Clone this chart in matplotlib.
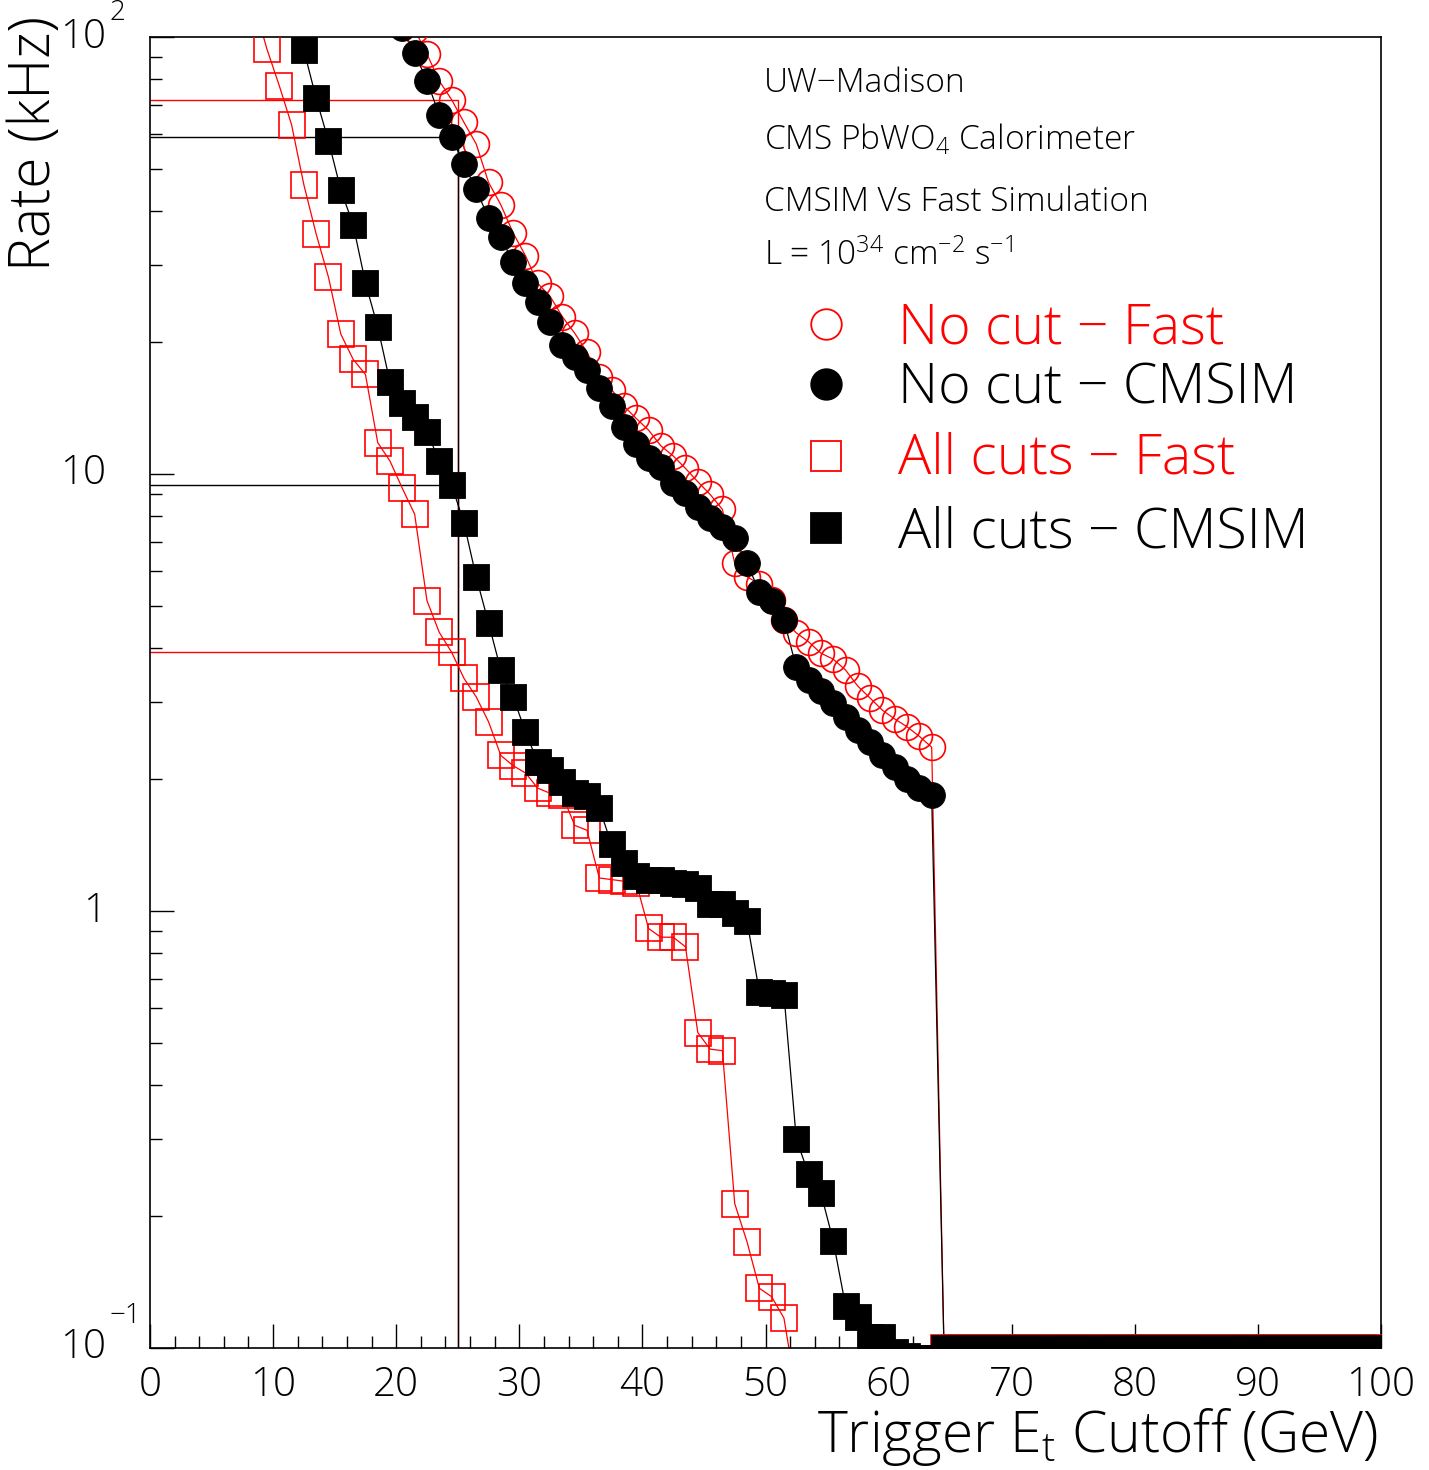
import numpy as np
import matplotlib
matplotlib.use("Agg")
import matplotlib.pyplot as plt
from matplotlib.ticker import MultipleLocator, FixedLocator, NullFormatter
import matplotlib.transforms as mtransforms

plt.rcParams['font.family'] = ['Open Sans', 'DejaVu Sans']
plt.rcParams['font.weight'] = 'light'
plt.rcParams['mathtext.fontset'] = 'custom'
plt.rcParams['mathtext.rm'] = 'Open Sans:light'
plt.rcParams['mathtext.it'] = 'Open Sans:light'

# trigger rate (kHz) per 1 GeV bin of the Et cutoff, bins centred on n + 0.5
ymin = 0.1

nocut_fast_x0 = 20.5
nocut_fast = [125, 104, 91.4, 79.3, 71.9, 63.8, 56.9, 46.5, 41.3, 35.6,
              31.6, 27.3, 25.5, 22.9, 21.0, 19.0, 16.7, 15.6, 14.3, 13.4,
              12.6, 11.6, 11.0, 10.3, 9.6, 8.98, 8.3, 6.25, 5.82, 5.6,
              5.15, 4.63, 4.33, 4.13, 3.89, 3.77, 3.56, 3.27, 3.07, 2.88,
              2.75, 2.64, 2.51, 2.37] + [ymin] * 36

nocut_cmsim_x0 = 19.5
nocut_cmsim = [130, 104.7, 91.8, 79.4, 66.3, 58.9, 51.1, 44.8, 38.5, 34.8,
               30.5, 27.3, 24.8, 22.3, 19.7, 18.5, 17.3, 15.7, 14.3, 12.8,
               11.7, 10.9, 10.4, 9.55, 9.04, 8.42, 7.92, 7.58, 7.13, 6.25,
               5.38, 5.11, 4.63, 3.61, 3.38, 3.18, 2.99, 2.78, 2.60, 2.44,
               2.27, 2.14, 2.01, 1.91, 1.84] + [ymin] * 36

allcuts_fast_x0 = 8.5
allcuts_fast = [118, 93.8, 77.4, 63.0, 45.9, 35.4, 28.2, 20.9, 18.3, 16.9,
                11.8, 10.7, 9.27, 8.09, 5.13, 4.34, 3.91, 3.41, 3.09, 2.71,
                2.27, 2.15, 2.07, 1.91, 1.86, 1.84, 1.57, 1.53, 1.19, 1.18,
                1.17, 1.16, 0.912, 0.871, 0.871, 0.828, 0.527, 0.483, 0.479, 0.214,
                0.175, 0.137, 0.131, 0.117, 0.079, 0.07, 0.07, 0.07, 0.07, 0.07,
                0.07, 0.07, 0.07, 0.07, 0.07, 0.07] + [ymin] * 36

allcuts_cmsim_x0 = 11.5
allcuts_cmsim = [120, 93.3, 72.4, 57.8, 44.7, 37.2, 27.4, 21.7, 16.2, 14.5,
                 13.5, 12.5, 10.7, 9.44, 7.73, 5.81, 4.56, 3.56, 3.09, 2.57,
                 2.19, 2.10, 1.97, 1.86, 1.83, 1.72, 1.42, 1.29, 1.20, 1.18,
                 1.18, 1.16, 1.15, 1.13, 1.04, 1.04, 0.99, 0.948, 0.653, 0.648,
                 0.643, 0.301, 0.250, 0.226, 0.176, 0.125, 0.118, 0.106, 0.106, 0.098,
                 0.096, 0.095, 0.095] + [ymin] * 36

cut_value = 25.0
legend_labels = ["No cut \u2212 Fast", "No cut \u2212 CMSIM",
                 "All cuts \u2212 Fast", "All cuts \u2212 CMSIM"]
header_lines = ["UW\u2212Madison",
                r"CMS PbWO$_{4}$ Calorimeter",
                "CMSIM Vs Fast Simulation",
                r"L = 10$^{34}$ cm$^{-2}$ s$^{-1}$"]
ytick_vals = [0.1, 1, 10, 100]

RED = '#ff0000'
BLACK = '#000000'

series = [
    (nocut_fast_x0, nocut_fast, RED, 'o', 'none', RED, 1.2),
    (nocut_cmsim_x0, nocut_cmsim, BLACK, 'o', BLACK, BLACK, 0.6),
    (allcuts_fast_x0, allcuts_fast, RED, 's', 'none', RED, 1.2),
    (allcuts_cmsim_x0, allcuts_cmsim, BLACK, 's', BLACK, BLACK, 0.6),
]

fig = plt.figure(figsize=(14.29, 14.70), dpi=100)
ax = fig.add_axes([150 / 1429, 1 - 1348 / 1470, 1231 / 1429, 1311 / 1470])
ax.set_yscale('log')
ax.set_xlim(0, 100)
ax.set_ylim(0.1, 100)

ms = 18.6
for x0, vals, col, mk, fc, ec, mw in series:
    x = x0 + np.arange(len(vals))
    ax.plot(x, vals, color=col, lw=0.9, zorder=2)
    ax.plot(x, vals, ls='none', marker=mk, ms=ms, mfc=fc, mec=ec,
            mew=mw, zorder=3)

# rates at the 25 GeV cut (bin just below the cut)
def rate_at(x0, vals):
    return vals[int(round(cut_value - 0.5 - x0))]

r_nf = rate_at(nocut_fast_x0, nocut_fast)
r_nc = rate_at(nocut_cmsim_x0, nocut_cmsim)
r_af = rate_at(allcuts_fast_x0, allcuts_fast)
r_ac = rate_at(allcuts_cmsim_x0, allcuts_cmsim)
ax.plot([0, cut_value, cut_value], [r_nf, r_nf, ymin], color=RED, lw=1.0, zorder=1)
ax.plot([0, cut_value], [r_af, r_af], color=RED, lw=1.0, zorder=1)
ax.plot([0, cut_value, cut_value], [r_nc, r_nc, ymin], color=BLACK, lw=1.0, zorder=1.5)
ax.plot([0, cut_value], [r_ac, r_ac], color=BLACK, lw=1.0, zorder=1.5)

# axes frame and ticks
for sp in ax.spines.values():
    sp.set_linewidth(1.2)
ax.xaxis.set_major_locator(MultipleLocator(10))
ax.xaxis.set_minor_locator(MultipleLocator(2))
ax.tick_params(axis='x', which='major', direction='in', length=17, width=1,
               labelsize=29, pad=12, top=False)
ax.tick_params(axis='x', which='minor', direction='in', length=8.5, width=1, top=False)
ax.yaxis.set_major_locator(FixedLocator(ytick_vals))
ax.yaxis.set_minor_locator(FixedLocator(
    [m * 10.0 ** e for e in (-1, 0, 1) for m in range(2, 10)]))
ax.yaxis.set_major_formatter(NullFormatter())
ax.yaxis.set_minor_formatter(NullFormatter())
ax.tick_params(axis='y', which='major', direction='in', length=17, width=1, right=False)
ax.tick_params(axis='y', which='minor', direction='in', length=8.5, width=1, right=False)

# y tick labels, powers written with a raised exponent
ytr = mtransforms.blended_transform_factory(ax.transAxes, ax.transData)
lx = (106 - 150) / 1231
exp_text = {2: ("2", 0.024), -1: ("\u22121", 0.042)}
for v in ytick_vals:
    e = int(round(np.log10(v)))
    if e in (0, 1):
        ax.text(lx, v, str(int(v)), transform=ytr, ha='right', va='center',
                fontsize=29)
    else:
        ax.text(lx, v, "10", transform=ytr, ha='right', va='center', fontsize=29)
        s, off = exp_text[e]
        ax.text(lx + 0.003, v * 10 ** off, s, transform=ytr,
                ha='left', va='bottom', fontsize=20)

# header text
hx = (764 - 150) / 1231
for txt, py in zip(header_lines, [92, 150, 211, 265]):
    ax.text(hx, (1348 - py) / 1311, txt, transform=ax.transAxes,
            ha='left', va='baseline', fontsize=24)

# legend
mx = (826 - 150) / 1231
tx = (898 - 150) / 1231
leg_rows = [(324, 343), (384, 403), (456, 474), (528, 547)]
for (x0, vals, col, mk, fc, ec, mw), lab, (my, ty) in zip(series, legend_labels, leg_rows):
    ax.plot([mx], [(1348 - my) / 1311], transform=ax.transAxes, marker=mk,
            ms=22, mfc=fc, mec=ec, mew=1.3, ls='none', clip_on=False)
    ax.text(tx, (1348 - ty) / 1311, lab, transform=ax.transAxes, color=col,
            ha='left', va='baseline', fontsize=40)

fig.text(1378 / 1429, 1 - 1452 / 1470, r"Trigger E$_{t}$ Cutoff (GeV)",
         ha='right', va='baseline', fontsize=41)
fig.text(35 / 1429, 1 - 16 / 1470, "Rate (kHz)", rotation=90,
         ha='center', va='top', fontsize=41)

fig.savefig("out.png", dpi=100)
